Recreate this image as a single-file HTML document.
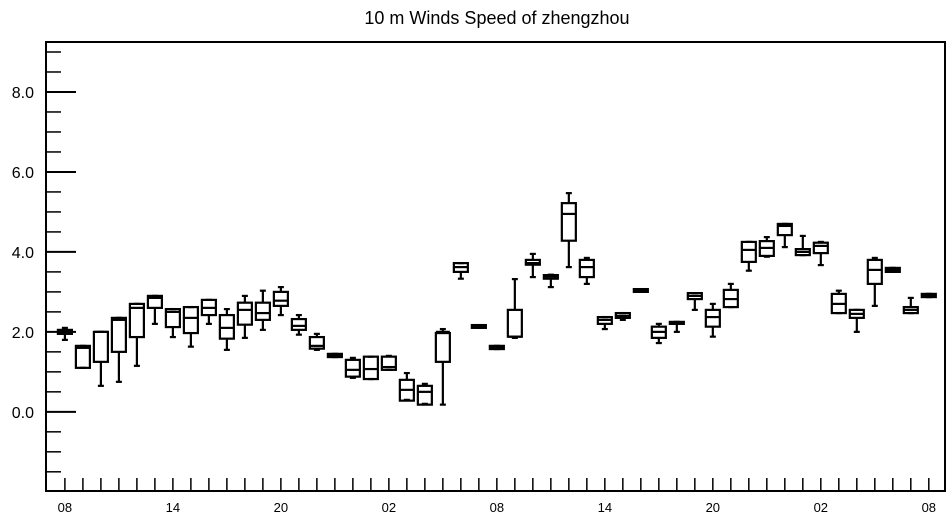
<!DOCTYPE html>
<html><head><meta charset="utf-8"><style>
body{margin:0;background:#fff;}
svg{display:block;font-family:"Liberation Sans",Arial,sans-serif;}
</style></head><body>
<svg id="chart" width="952" height="520">
<text x="497" y="24" text-anchor="middle" font-size="18">10 m Winds Speed of zhengzhou</text>
<g id="plot"></g>
</svg>
<script>
const hours = [0,1,2,3,4,5,6,7,8,9,10,11,12,13,14,15,16,17,18,19,20,21,22,23,24,25,26,27,28,29,30,31,32,33,34,35,36,37,38,39,40,41,42,43,44,45,46,47,48];
const q1Vals = [1.95,1.1,1.25,1.5,1.87,2.6,2.12,1.97,2.42,1.83,2.18,2.3,2.65,2.05,1.58,1.37,0.88,0.82,1.05,0.28,0.18,1.25,3.5,2.1,1.57,1.88,3.68,3.33,4.28,3.37,2.2,2.35,3.0,1.85,2.2,2.82,2.13,2.62,3.75,3.9,4.42,3.92,3.97,2.47,2.35,3.2,3.5,2.47,2.87];
const medVals = [2.0,1.6,2.0,2.3,2.6,2.85,2.5,2.35,2.6,2.1,2.55,2.47,2.78,2.15,1.65,1.4,1.05,1.07,1.12,0.55,0.5,2.0,3.62,2.13,1.62,1.88,3.72,3.38,4.95,3.62,2.3,2.4,3.03,2.0,2.22,2.9,2.37,2.82,4.05,4.1,4.65,4.0,4.15,2.7,2.45,3.55,3.55,2.55,2.92];
const q3Vals = [2.05,1.65,2.0,2.35,2.7,2.9,2.57,2.62,2.8,2.42,2.73,2.73,3.0,2.32,1.87,1.45,1.3,1.38,1.38,0.8,0.65,1.97,3.72,2.17,1.65,2.55,3.8,3.42,5.22,3.8,2.37,2.47,3.07,2.13,2.25,2.97,2.55,3.05,4.25,4.27,4.7,4.07,4.23,2.95,2.55,3.8,3.6,2.62,2.95];
const loVals = [1.8,1.1,0.65,0.75,1.15,2.2,1.87,1.63,2.2,1.55,1.85,2.05,2.42,1.93,1.55,1.37,0.85,0.82,1.05,0.3,0.2,0.18,3.33,2.1,1.57,1.85,3.37,3.12,3.62,3.2,2.07,2.3,3.0,1.72,2.0,2.55,1.88,2.62,3.53,3.88,4.12,3.92,3.67,2.47,2.0,2.65,3.5,2.47,2.87];
const hiVals = [2.1,1.65,2.0,2.35,2.7,2.9,2.57,2.62,2.8,2.57,2.9,3.03,3.12,2.42,1.95,1.45,1.35,1.38,1.4,0.97,0.7,2.07,3.72,2.17,1.65,3.32,3.95,3.43,5.47,3.85,2.37,2.47,3.07,2.2,2.25,2.97,2.7,3.2,4.25,4.37,4.7,4.4,4.25,3.03,2.55,3.85,3.6,2.85,2.95];
const xTickLabels = ["08","14","20","02","08","14","20","02","08"];
const yTickLabels = ["0.0","2.0","4.0","6.0","8.0"];

const L=46,R=945,T=42,B=491;
const xMin=-1.05,xMax=48.9,yMin=-1.98,yMax=9.25;
const sx=v=>L+(v-xMin)/(xMax-xMin)*(R-L);
const sy=v=>B-(v-yMin)/(yMax-yMin)*(B-T);
const NS="http://www.w3.org/2000/svg";
const g=document.getElementById('plot');
function mk(tag,attrs,parent){const e=document.createElementNS(NS,tag);for(const k in attrs)e.setAttribute(k,attrs[k]);(parent||g).appendChild(e);return e;}

const frame=mk('rect',{x:L,y:T,width:R-L,height:B-T,fill:'none',stroke:'#000','stroke-width':2});



// y ticks
for(let v=-1.5;v<=9.01;v+=0.5){
  const major=Math.abs(v/2-Math.round(v/2))<1e-6;
  const t=mk('line',{x1:L,x2:L+(major?30:15),y1:sy(v),y2:sy(v),stroke:'#000','stroke-width':major?2:1.5});
  
  
}
yTickLabels.forEach((s,i)=>{
  const t=mk('text',{x:L-12,y:sy(parseFloat(s))+6,'text-anchor':'end','font-size':16});
  t.textContent=s;
  
  
});
// x ticks
for(let h=0;h<=48;h++){
  const t=mk('line',{x1:sx(h),x2:sx(h),y1:B,y2:B-13,stroke:'#000','stroke-width':1.5});
  
  
}
xTickLabels.forEach((s,i)=>{
  const t=mk('text',{x:sx(i*6),y:512,'text-anchor':'middle','font-size':13});
  t.textContent=s;
  
  
});
// boxes
const hw=7;
hours.forEach((h,i)=>{
  const bg=mk('g',{});
  
  
  const x=sx(h);
  const st={stroke:'#000','stroke-width':2.2,fill:'none'};
  mk('line',Object.assign({x1:x,x2:x,y1:sy(hiVals[i]),y2:sy(q3Vals[i])},st),bg);
  mk('line',Object.assign({x1:x,x2:x,y1:sy(q1Vals[i]),y2:sy(loVals[i])},st),bg);
  mk('line',Object.assign({x1:x-3,x2:x+3,y1:sy(hiVals[i]),y2:sy(hiVals[i])},st),bg);
  mk('line',Object.assign({x1:x-3,x2:x+3,y1:sy(loVals[i]),y2:sy(loVals[i])},st),bg);
  const yt=sy(q3Vals[i]),yb=sy(q1Vals[i]);
  mk('rect',Object.assign({x:x-hw,y:yt,width:2*hw,height:Math.max(yb-yt,2)},st),bg);
  mk('line',Object.assign({x1:x-hw,x2:x+hw,y1:sy(medVals[i]),y2:sy(medVals[i])},st),bg);
});
</script>
</body></html>
